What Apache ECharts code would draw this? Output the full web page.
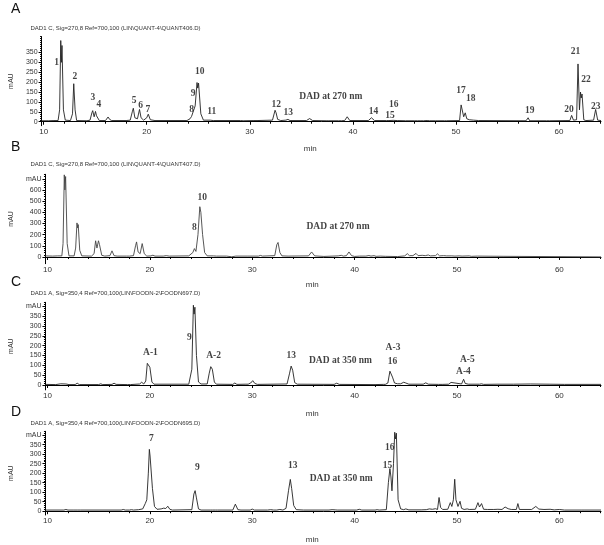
<!DOCTYPE html>
<html>
<head>
<meta charset="utf-8">
<script src="https://cdn.jsdelivr.net/npm/echarts@6/dist/echarts.min.js"></script>
<style>
html, body { margin: 0; padding: 0; background: #fff; }
#chart { width: 604px; height: 545px; }
</style>
</head>
<body>
<div id="chart"></div>
<script>
// ---- tick labels ----
const xTicks = [10, 20, 30, 40, 50, 60];
const yTicksA = [0, 50, 100, 150, 200, 250, 300, 350];
const yTicksB = [0, 100, 200, 300, 400, 500, 600, 700];
const yTicksC = [0, 50, 100, 150, 200, 250, 300, 350, 400];
const yTicksD = [0, 50, 100, 150, 200, 250, 300, 350, 400];

// ---- traces: [min, mAU] ----
const traceA = [[9.8,5],[10.5,5],[11.0,6],[11.4,6],[11.55,60],[11.66,410],[11.72,300],[11.78,385],[11.92,60],[12.1,8],[12.6,6],[12.8,40],[12.92,192],[13.05,60],[13.2,6],[14.2,5],[14.5,8],[14.68,45],[14.76,56],[14.9,25],[15.03,52],[15.13,30],[15.4,6],[16.0,6],[16.25,24],[16.4,12],[16.6,6],[17.7,6],[17.85,12],[18.0,6],[18.4,8],[18.6,50],[18.7,68],[18.85,20],[19.1,15],[19.3,62],[19.45,20],[19.7,8],[20.0,20],[20.15,38],[20.35,10],[20.8,6],[23.9,6],[24.2,15],[24.35,27],[24.5,20],[24.7,80],[24.88,198],[24.95,170],[25.03,195],[25.25,40],[25.5,8],[26.15,8],[26.3,12],[26.45,6],[29.1,6],[29.2,8],[29.35,5],[30.4,6],[30.55,9],[30.7,6],[32.2,8],[32.45,58],[32.55,45],[32.7,12],[33.0,6],[33.5,8],[33.7,12],[33.9,6],[35.5,6],[35.8,16],[36.1,6],[37.4,5],[37.5,7],[37.6,5],[38.6,5],[38.75,8],[38.9,5],[39.2,6],[39.45,25],[39.7,6],[41.5,6],[41.8,20],[42.1,6],[43.25,6],[43.38,16],[43.5,6],[43.9,7],[44.05,10],[44.3,6],[45.1,5],[45.2,8],[45.35,5],[46.0,5],[46.1,9],[46.25,5],[46.6,5],[46.7,7],[46.85,5],[47.2,6],[47.3,8],[47.45,5],[48.0,5],[48.1,9],[48.25,5],[48.9,5],[49.0,7],[49.1,5],[50.35,6],[50.5,85],[50.6,92],[50.75,25],[50.9,45],[51.05,15],[51.3,10],[51.45,6],[51.7,8],[51.85,5],[52.2,6],[56.8,5],[57.0,20],[57.15,5],[58.8,5],[58.95,12],[59.1,5],[61.05,6],[61.22,32],[61.4,8],[61.7,10],[61.84,292],[61.98,60],[62.08,150],[62.15,120],[62.23,140],[62.4,10],[62.6,6],[63.35,8],[63.55,62],[63.75,8],[64.07,6]];

const traceB = [[9.8,10],[10.5,8],[11.0,10],[11.4,10],[11.52,120],[11.64,735],[11.7,600],[11.77,720],[11.92,120],[12.1,10],[12.6,10],[12.75,80],[12.88,305],[12.95,260],[13.0,290],[13.15,60],[13.35,10],[14.3,8],[14.55,30],[14.7,145],[14.83,80],[14.98,145],[15.08,110],[15.3,15],[15.6,8],[16.1,12],[16.3,55],[16.5,12],[16.8,8],[17.7,8],[17.86,22],[18.0,8],[18.4,12],[18.6,100],[18.7,135],[18.85,45],[19.05,30],[19.25,120],[19.45,30],[19.7,8],[20.1,10],[20.3,16],[20.5,8],[21.3,8],[21.6,12],[21.9,8],[23.8,10],[24.2,40],[24.35,75],[24.5,50],[24.7,200],[24.88,450],[24.98,400],[25.15,200],[25.35,40],[25.6,10],[26.2,10],[26.35,16],[26.5,8],[27.5,8],[28.0,2],[28.4,8],[29.5,8],[30.6,8],[30.8,14],[31.0,8],[32.2,12],[32.4,110],[32.52,130],[32.7,40],[32.9,10],[33.5,8],[35.5,10],[35.8,45],[36.1,10],[37.0,5],[38.4,10],[38.7,15],[38.9,8],[39.2,12],[39.45,45],[39.7,12],[40.0,5],[40.5,8],[41.1,8],[41.4,13],[41.6,8],[41.9,12],[42.1,6],[42.5,8],[43.0,6],[44.2,4],[44.9,10],[45.15,30],[45.35,12],[45.7,12],[46.0,32],[46.2,12],[46.6,15],[46.9,12],[47.2,18],[47.4,10],[47.9,12],[48.1,28],[48.3,10],[48.7,12],[49.0,10],[49.5,10],[49.8,8],[50.2,10],[50.5,8],[51.2,10],[51.4,6],[52.0,8],[54.5,6],[54.6,1],[64.07,1]];

const traceC = [[9.8,3],[10.8,2],[11.3,6],[11.8,5],[12.1,2],[12.7,2],[12.9,9],[13.1,2],[15.0,2],[15.2,6],[15.4,2],[16.3,3],[16.5,9],[16.7,3],[17.8,2],[17.95,6],[18.1,2],[19.0,5],[19.2,14],[19.4,5],[19.6,20],[19.75,110],[19.85,118],[20.0,90],[20.2,15],[20.4,4],[23.8,4],[24.1,80],[24.25,405],[24.32,360],[24.4,395],[24.55,150],[24.75,15],[25.0,5],[25.6,5],[25.8,60],[25.95,93],[26.1,80],[26.3,15],[26.5,4],[28.1,3],[28.3,10],[28.5,3],[29.3,4],[29.45,9],[29.6,4],[29.85,10],[30.05,22],[30.25,8],[30.5,3],[33.4,5],[33.65,60],[33.8,96],[33.95,75],[34.15,12],[34.4,4],[38.0,3],[38.25,9],[38.5,3],[41.8,2],[41.9,5],[42.0,2],[42.8,3],[42.9,6],[43.0,3],[43.25,10],[43.45,70],[43.55,78],[43.7,40],[43.9,10],[44.2,6],[44.5,6],[44.8,14],[45.0,10],[45.3,4],[46.7,4],[46.95,11],[47.2,4],[48.2,3],[48.38,9],[48.55,3],[49.2,4],[49.42,13],[49.6,4],[50.45,5],[50.65,29],[50.8,8],[51.1,4],[52.2,4],[52.4,6],[52.6,3],[54.0,4],[55.5,4],[57.2,5],[59.0,4],[60.5,3],[64.07,3]];

const traceD = [[9.8,6],[11.6,6],[11.8,9],[12.0,6],[12.2,6],[12.35,9],[12.5,6],[12.9,6],[13.05,8],[13.2,6],[17.2,6],[17.4,9],[17.6,6],[18.0,6],[18.2,8],[18.4,6],[18.9,8],[19.3,12],[19.55,40],[19.7,60],[19.85,200],[19.95,325],[20.02,290],[20.1,300],[20.25,120],[20.45,25],[20.7,10],[21.1,12],[21.35,16],[21.55,14],[21.75,26],[21.95,10],[22.2,6],[24.1,8],[24.3,90],[24.42,108],[24.55,70],[24.75,12],[25.0,6],[25.9,6],[26.0,8],[26.1,6],[26.4,6],[26.5,8],[26.6,6],[28.1,6],[28.35,37],[28.6,8],[28.9,6],[29.8,6],[30.0,11],[30.2,6],[31.5,6],[31.8,8],[32.1,6],[32.4,6],[32.7,9],[33.0,6],[33.3,15],[33.55,110],[33.72,167],[33.85,120],[34.05,30],[34.3,8],[35.0,6],[37.5,6],[37.8,8],[38.1,7],[38.3,6],[40.2,6],[40.45,10],[40.7,6],[42.0,6],[42.2,8],[42.4,6],[43.1,8],[43.3,150],[43.45,224],[43.55,180],[43.65,107],[43.8,250],[43.92,415],[44.0,380],[44.08,410],[44.25,60],[44.5,12],[44.8,8],[45.0,12],[45.3,7],[46.5,7],[47.0,8],[47.3,12],[47.6,10],[47.9,13],[48.1,9],[48.25,72],[48.4,20],[48.6,9],[49.1,10],[49.35,45],[49.5,25],[49.65,60],[49.78,168],[49.9,60],[50.1,25],[50.3,52],[50.45,15],[50.7,9],[51.0,12],[51.2,9],[51.8,10],[52.05,45],[52.2,22],[52.4,40],[52.6,10],[53.0,9],[53.6,9],[54.0,10],[54.4,9],[54.7,22],[55.0,13],[55.3,9],[55.8,9],[55.95,40],[56.1,9],[57.3,9],[57.7,25],[58.0,11],[58.5,9],[59.1,10],[59.5,7],[60.0,9],[60.5,6],[62.2,6],[62.35,8],[62.5,6],[64.07,6]];

// ---- peak annotations: [text, min, mAU] ----
const labelsA = [['1',11.27,300],['2',13.04,230],['3',14.78,120],['4',15.37,86],['5',18.79,108],['6',19.42,83],['7',20.11,62],['8',24.35,62],['9',24.51,142],['10',25.14,252],['11',26.31,52],['12',32.57,88],['13',33.73,47],['14',42.01,52],['15',43.59,32],['16',43.97,86],['17',50.48,159],['18',51.43,118],['19',57.15,57],['20',60.97,62],['21',61.6,357],['22',62.62,215],['23',63.56,79],['DAD at 270 nm',37.86,125]];
const labelsB = [['10',25.11,534],['8',24.35,266],['DAD at 270 nm',38.38,271]];
const labelsC = [['A-1',20.06,166],['9',23.85,240],['A-2',26.22,149],['13',33.8,152],['DAD at 350 nm',38.62,122],['A-3',43.75,189],['16',43.69,118],['A-5',51.01,127],['A-4',50.63,68]];
const labelsD = [['7',20.15,384],['9',24.63,228],['13',33.95,240],['DAD at 350 nm',38.69,173],['16',43.43,333],['15',43.21,240]];

const headers = [
  'DAD1 C, Sig=270,8 Ref=700,100 (LIN\\QUANT-4\\QUANT406.D)',
  'DAD1 C, Sig=270,8 Ref=700,100 (LIN\\QUANT-4\\QUANT407.D)',
  'DAD1 A, Sig=350,4 Ref=700,100(LIN\\FOODN-2\\FOODN697.D)',
  'DAD1 A, Sig=350,4 Ref=700,100(LIN\\FOODN-2\\FOODN695.D)'
];
const letters = ['A', 'B', 'C', 'D'];

// layout of the four panels (pixels)
const panels = [
  { trace: traceA, labels: labelsA, yTicks: yTicksA, top: 36.6, bottom: 125.7, yMin: -20, yMax: 430, minorStep: 10, mAUTop: false, nameGap: 19, letterY: 10, headerY: 29.5, color: '#222' },
  { trace: traceB, labels: labelsB, yTicks: yTicksB, top: 174.3, bottom: 263.7, yMin: -60, yMax: 740, minorStep: 20, mAUTop: true, nameGap: 17, letterY: 148, headerY: 165, color: '#444' },
  { trace: traceC, labels: labelsC, yTicks: yTicksC, top: 302.3, bottom: 389.9, yMin: -25, yMax: 420, minorStep: 10, mAUTop: true, nameGap: 20, letterY: 283, headerY: 294.5, color: '#222' },
  { trace: traceD, labels: labelsD, yTicks: yTicksD, top: 431.3, bottom: 517.7, yMin: -20, yMax: 420, minorStep: 10, mAUTop: true, nameGap: 21, letterY: 413.5, headerY: 424.5, color: '#222' }
];

const X_MIN = 9.8, X_MAX = 64.07;
const range = (a, b, s) => { const r = []; for (let v = a; v <= b + 1e-9; v += s) r.push(v); return r; };
const minorX = range(10, 64, 2);

const sans = 'Liberation Sans';
const serif = 'Liberation Serif';

let grid = [], xAxis = [], yAxis = [], series = [], graphic = [];

panels.forEach((p, i) => {
  grid.push({ left: 28.5, width: 572.5, top: p.top, height: p.bottom - p.top });

  xAxis.push({
    gridIndex: i, type: 'value', position: 'bottom', min: X_MIN, max: X_MAX,
    axisLine: { lineStyle: { color: '#000', width: 1 } },
    axisTick: { customValues: xTicks, length: 3, lineStyle: { color: '#000' } },
    axisLabel: { customValues: xTicks, fontSize: 8, color: '#333', margin: 2, fontFamily: sans },
    splitLine: { show: false },
    name: 'min', nameLocation: 'middle', nameGap: p.nameGap,
    nameTextStyle: { fontSize: 8, color: '#333', fontFamily: sans, padding: [0, 22, 0, 0] }
  });
  xAxis.push({
    gridIndex: i, type: 'value', position: 'bottom', min: X_MIN, max: X_MAX,
    axisLine: { show: false },
    axisTick: { customValues: minorX, length: 2, lineStyle: { color: '#000' } },
    axisLabel: { show: false }, splitLine: { show: false }
  });

  yAxis.push({
    gridIndex: i, type: 'value', position: 'left', min: p.yMin, max: p.yMax,
    axisLine: { show: true, lineStyle: { color: '#000', width: 1 } },
    axisTick: { show: true, customValues: p.yTicks, length: 3, lineStyle: { color: '#000' } },
    axisLabel: {
      customValues: p.yTicks, fontSize: 7, color: '#333', margin: 4, fontFamily: sans,
      formatter: v => (p.mAUTop && v === p.yTicks[p.yTicks.length - 1]) ? 'mAU' : String(v)
    },
    splitLine: { show: false },
    name: 'mAU', nameLocation: 'middle', nameRotate: 90, nameGap: 20,
    nameTextStyle: { fontSize: 7, color: '#333', fontFamily: sans }
  });
  yAxis.push({
    gridIndex: i, type: 'value', position: 'left', min: p.yMin, max: p.yMax,
    axisLine: { show: false },
    axisTick: { show: true, customValues: range(0, p.yMax, p.minorStep), length: 1.5, lineStyle: { color: '#000' } },
    axisLabel: { show: false }, splitLine: { show: false }
  });

  series.push({
    type: 'line', xAxisIndex: 2 * i, yAxisIndex: 2 * i,
    data: p.trace, showSymbol: false, symbol: 'none', smooth: false,
    lineStyle: { color: p.color, width: 0.9 }, silent: true
  });
  series.push({
    type: 'scatter', xAxisIndex: 2 * i, yAxisIndex: 2 * i,
    data: p.labels.map(d => ({ name: d[0], value: [d[1], d[2]] })),
    symbolSize: 0, silent: true,
    label: {
      show: true, position: 'inside', formatter: '{b}',
      fontFamily: serif, fontWeight: 'bold', fontSize: 9.5, color: '#111'
    }
  });

  graphic.push({
    type: 'text', left: 11, top: p.letterY - 8,
    style: { text: letters[i], font: '14px "Liberation Sans"', fill: '#111' }
  });
  graphic.push({
    type: 'text', left: 30.5, top: p.headerY - 4,
    style: { text: headers[i], font: '6px "Liberation Sans"', fill: '#333' }
  });
});

const chart = echarts.init(document.getElementById('chart'), null, { renderer: 'canvas' });
chart.setOption({
  animation: false,
  backgroundColor: '#fff',
  grid, xAxis, yAxis, series, graphic
});
</script>
</body>
</html>
